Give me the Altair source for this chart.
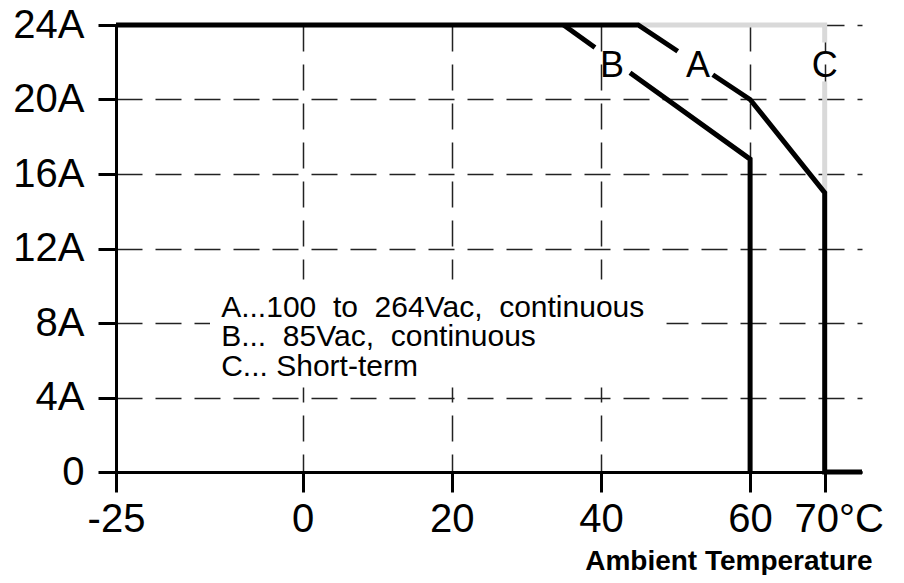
import altair as alt
import pandas as pd

# ---- data ----
# curve A (100 to 264Vac, continuous), split where the "A" label breaks it
a_seg = [1, 1, 1, 2, 2, 2, 2, 2]
a_temp = [-25, 45, 50.3, 55.0, 60, 70, 70, 75]
a_curr = [24, 24, 22.59, 21.33, 20, 15, 0, 0]

# curve B (85Vac, continuous)
b_seg = [1, 1, 2, 2, 2]
b_temp = [35, 39.2, 43.9, 60, 60]
b_curr = [24, 22.79, 21.44, 16.8, 0]

# curve C (short-term), grey
c_seg = [1, 1, 1, 2, 2]
c_temp = [45, 70, 70, 70, 70]
c_curr = [24, 24, 23.06, 20.97, 15]

label_names = ["A", "B", "C"]
label_temp = [53.0, 41.5, 70.0]
label_curr = [21.8, 21.8, 21.8]

note_lines = ["A...100\u00a0 to\u00a0 264Vac,\u00a0 continuous",
              "B...\u00a0 85Vac,\u00a0 continuous",
              "C... Short-term"]
note_temp = [-10.9, -10.9, -10.9]
note_curr = [8.32, 6.75, 5.14]

# blank area behind the note block (temperature / current extent)
note_box_t = [-12.4]
note_box_t2 = [48.8]
note_box_c = [10.34]
note_box_c2 = [4.54]

x_ticks = [-25, 0, 20, 40, 60, 70]
y_ticks = [0, 4, 8, 12, 16, 20, 24]


def make_df(curve, segs, temps, currs):
    return pd.DataFrame({
        "curve": [curve] * len(temps),
        "seg": [f"{curve}{s}" for s in segs],
        "i": list(range(len(temps))),
        "t": temps,
        "c": currs,
    })


df_a = make_df("A", a_seg, a_temp, a_curr)
df_b = make_df("B", b_seg, b_temp, b_curr)
df_c = make_df("C", c_seg, c_temp, c_curr)
df_lab = pd.DataFrame({"name": label_names, "t": label_temp, "c": label_curr})
df_note = pd.DataFrame({"txt": note_lines, "t": note_temp, "c": note_curr})
df_box = pd.DataFrame({"t": note_box_t, "t2": note_box_t2,
                       "c": note_box_c, "c2": note_box_c2})

FONT = "Liberation Sans"

x_enc = alt.X(
    "t:Q",
    scale=alt.Scale(domain=[-25, 75], nice=False, zero=False),
    axis=alt.Axis(
        values=x_ticks,
        labelExpr="datum.value == 70 ? '70°C' : toString(datum.value)",
        labelFont=FONT, labelFontSize=40, labelColor="black",
        labelPadding=7, labelFlush=False, labelOverlap=False, labelBound=False,
        labelOffset={"condition": {"test": "datum.value == 70", "value": 14}, "value": 0},
        tickSize=20, tickWidth=3, tickColor="black",
        domainColor="black", domainWidth=3,
        grid=True, gridColor="#222222", gridWidth=1.5, gridDash=[26, 13],
        title="Ambient Temperature", titleFont=FONT, titleFontSize=28,
        titleFontWeight="bold", titleColor="black",
        titleX=756, titleY=97, titleAlign="right", titleBaseline="alphabetic",
    ),
)
y_enc = alt.Y(
    "c:Q",
    scale=alt.Scale(domain=[0, 24], nice=False),
    axis=alt.Axis(
        values=y_ticks,
        labelExpr="datum.value == 0 ? '0' : datum.value + 'A'",
        labelFont=FONT, labelFontSize=40, labelColor="black",
        labelPadding=14, labelFlush=False, labelOverlap=False, labelBound=False,
        tickSize=18, tickWidth=3, tickColor="black",
        domainColor="black", domainWidth=3,
        grid=True, gridColor="#222222", gridWidth=1.5, gridDash=[26, 13],
        title=None,
    ),
)

box = alt.Chart(df_box).mark_rect(color="white").encode(
    x=x_enc, x2="t2:Q", y=y_enc, y2="c2:Q"
)

line_c = alt.Chart(df_c).mark_line(
    color="#d9d9d9", strokeWidth=5, strokeJoin="miter", strokeCap="butt"
).encode(x=x_enc, y=y_enc, detail="seg:N", order="i:Q")

line_a = alt.Chart(df_a).mark_line(
    color="black", strokeWidth=5, strokeJoin="miter", strokeCap="butt"
).encode(x=x_enc, y=y_enc, detail="seg:N", order="i:Q")

line_b = alt.Chart(df_b).mark_line(
    color="black", strokeWidth=5, strokeJoin="miter", strokeCap="butt"
).encode(x=x_enc, y=y_enc, detail="seg:N", order="i:Q")

labels = alt.Chart(df_lab).mark_text(
    font=FONT, fontSize=36, color="black", align="center", baseline="middle"
).encode(x=x_enc, y=y_enc, text="name:N")

notes = alt.Chart(df_note).mark_text(
    font=FONT, fontSize=30, color="black", align="left", baseline="alphabetic"
).encode(x=x_enc, y=y_enc, text="txt:N")

chart = alt.layer(box, line_c, line_a, line_b, labels, notes).properties(
    width=746,
    height=447,
    padding={"left": 108, "top": 17, "right": 30, "bottom": 103},
    autosize="none",
).configure_view(stroke=None)

chart.save("out.html", embed_options={"renderer": "svg", "actions": False})
